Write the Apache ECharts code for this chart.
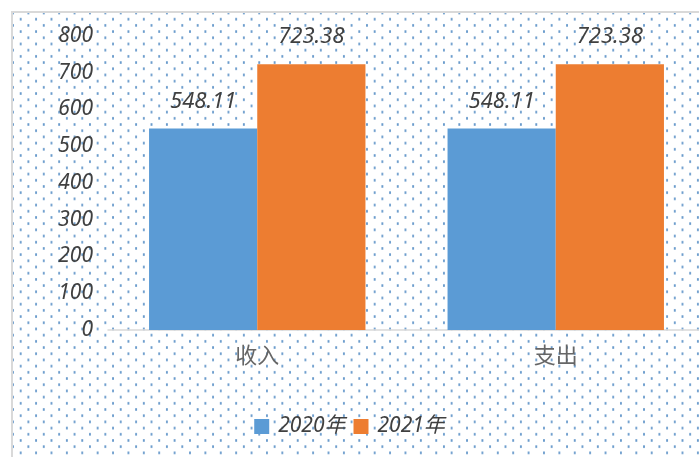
<!DOCTYPE html>
<html>
<head>
<meta charset="utf-8">
<script src="https://cdn.jsdelivr.net/npm/echarts@6/dist/echarts.min.js"></script>
<style>
    body {
        margin: 0;
        width: 699px;
        height: 457px;
        overflow: hidden;
        background: #fff;
        position: relative;
    }
    .frame {
        position: absolute;
        left: 11px;
        top: 11px;
        width: 720px;
        height: 480px;
        border: 2px solid #d9d9d9;
        background-color: #fff;
        background-image:
            radial-gradient(circle, #6a9bcc 1px, transparent 1.4px),
            radial-gradient(circle, #6a9bcc 1px, transparent 1.4px);
        background-size: 15.4px 12.4px;
        background-position: 0 0, 7.7px 6.2px;
    }
    #chart {
        position: absolute;
        left: 0;
        top: 0;
        width: 699px;
        height: 457px;
    }
</style>
</head>
<body>
<div class="frame"></div>
<div id="chart"></div>
<script>
// 数据
const categories = ['收入', '支出']
const seriesNames = ['2020年', '2021年']
const values2020 = [548.11, 548.11]
const values2021 = [723.38, 723.38]
const colors = ['#5b9bd5', '#ed7d31']

const fontFamily = '"Noto Sans", "Noto Sans CJK SC", sans-serif'

var myChart = echarts.init(document.getElementById('chart'))

function barSeries(name, data, color) {
    return {
        name: name,
        type: 'bar',
        data: data,
        barGap: '0%',
        barCategoryGap: '27.5%',
        itemStyle: { color: color },
        label: {
            show: true,
            position: 'top',
            distance: 16,
            fontSize: 22,
            fontStyle: 'italic',
            fontFamily: fontFamily,
            color: '#404040'
        }
    }
}

let option = {
    animation: false,
    textStyle: { fontFamily: fontFamily },
    grid: {
        left: 108,
        top: 36,
        width: 597,
        height: 294,
        containLabel: false,
        outerBoundsMode: 'none'
    },
    legend: {
        top: 411,
        left: 'center',
        itemWidth: 15,
        itemHeight: 15,
        itemGap: 8,
        icon: 'rect',
        textStyle: {
            fontSize: 21,
            fontStyle: 'italic',
            color: '#404040',
            fontFamily: fontFamily,
            padding: [0, 0, 0, 4]
        },
        data: seriesNames
    },
    xAxis: {
        type: 'category',
        data: categories,
        axisLine: { lineStyle: { color: '#d9d9d9', width: 1.5 } },
        axisTick: { show: false },
        axisLabel: {
            fontSize: 22,
            color: '#666666',
            margin: 16
        }
    },
    yAxis: {
        type: 'value',
        min: 0,
        max: 800,
        interval: 100,
        axisLine: { show: false },
        axisTick: { show: false },
        splitLine: { show: false },
        axisLabel: {
            fontSize: 21,
            fontStyle: 'italic',
            color: '#404040',
            margin: 15
        }
    },
    series: [
        barSeries(seriesNames[0], values2020, colors[0]),
        barSeries(seriesNames[1], values2021, colors[1])
    ]
}

myChart.setOption(option)
</script>
</body>
</html>
